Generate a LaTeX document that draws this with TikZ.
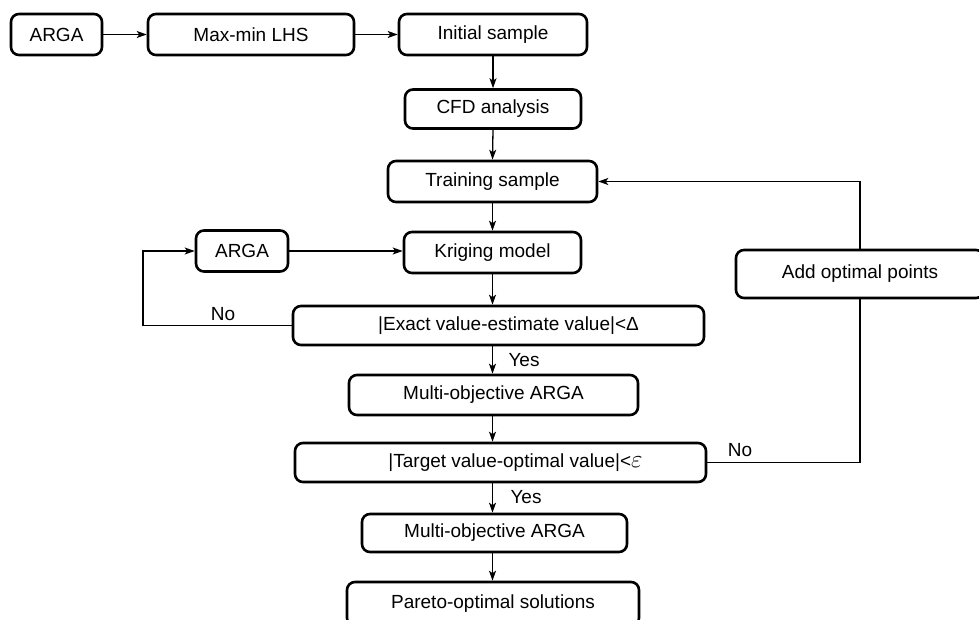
\documentclass[tikz,border=0pt]{standalone}
\usepackage{fontspec}
\setmainfont{Liberation Sans}
\usetikzlibrary{arrows.meta}
\begin{document}
\begin{tikzpicture}[x=1pt, y=-1pt,
  font=\fontsize{19}{23}\selectfont,
  box/.style={draw=black, line width=2.6pt, rounded corners=8pt, fill=white, inner sep=0pt},
  link/.style={line width=1.3pt, -{Stealth[length=10pt, width=7pt, inset=2.5pt]}},
  plain/.style={line width=1.3pt}]
  \useasboundingbox (0,0) rectangle (979,620);
  % Ligne du haut
  \node[box, minimum width=91pt, minimum height=41pt]  (arga1) at (56.5,34.5) {ARGA};
  \node[box, minimum width=206pt, minimum height=41pt] (lhs)   at (251,34.5)  {Max-min LHS};
  \node[box, minimum width=188pt, minimum height=41pt] (init)  at (493,34.5)  {Initial sample};
  % Colonne centrale
  \node[box, minimum width=176pt, minimum height=39pt] (cfd)   at (493,109)   {CFD analysis};
  \node[box, minimum width=209pt, minimum height=41pt] (train) at (492.5,181.5) {Training sample};
  \node[box, minimum width=92pt, minimum height=41pt]  (arga2) at (242,251) {ARGA};
  \node[box, minimum width=177pt, minimum height=41pt] (krig)  at (492.5,252.5) {Kriging model};
  \node[box, minimum width=411pt, minimum height=39pt] (exact) at (498.5,325.5) {\hspace*{20pt}|Exact value-estimate value|<Δ};
  \node[box, minimum width=289pt, minimum height=40pt] (multi1) at (493.5,395) {Multi-objective ARGA};
  \node[box, minimum width=411pt, minimum height=39pt] (target) at (500.5,462.5)
        {\hspace*{30pt}|Target value-optimal value|<{\fontsize{25}{25}\selectfont$\varepsilon$}};
  \node[box, minimum width=265pt, minimum height=38pt] (multi2) at (494.5,533) {Multi-objective ARGA};
  \node[box, minimum width=292pt, minimum height=44pt] (pareto) at (493,604) {Pareto-optimal solutions};
  % Boucle de droite
  \node[box, minimum width=248pt, minimum height=48pt] (addpts) at (860,274) {Add optimal points};
  % Flèches du haut
  \draw[link] (arga1.east) -- (lhs.west);
  \draw[link] (lhs.east) -- (init.west);
  \draw[link] (init.south) -- (cfd.north);
  \draw[link] (cfd.south) -- (train.north);
  \draw[link] (train.south) -- (krig.north);
  \draw[link] (arga2.east) -- (arga2.east -| krig.west);
  \draw[link] (krig.south) -- (krig.south |- exact.north);
  \draw[link] (krig.south |- exact.south) -- (krig.south |- multi1.north);
  \draw[link] (krig.south |- multi1.south) -- (krig.south |- target.north);
  \draw[link] (krig.south |- target.south) -- (krig.south |- multi2.north);
  \draw[link] (krig.south |- multi2.south) -- (krig.south |- pareto.north);
  % Boucle de gauche (No)
  \coordinate (loopL) at (143,0);
  \draw[link] (exact.west) -| (loopL |- arga2.west) -- (arga2.west);
  % Boucle de droite (No)
  \draw[plain] (target.east) -| (addpts.south);
  \draw[link] (addpts.north) |- (train.east);
  % Étiquettes
  \node (no1)  at (223,314) {No};
  \node (yes1) at (524,360) {Yes};
  \node (no2)  at (740,450) {No};
  \node (yes2) at (526,497) {Yes};
\end{tikzpicture}
\end{document}
